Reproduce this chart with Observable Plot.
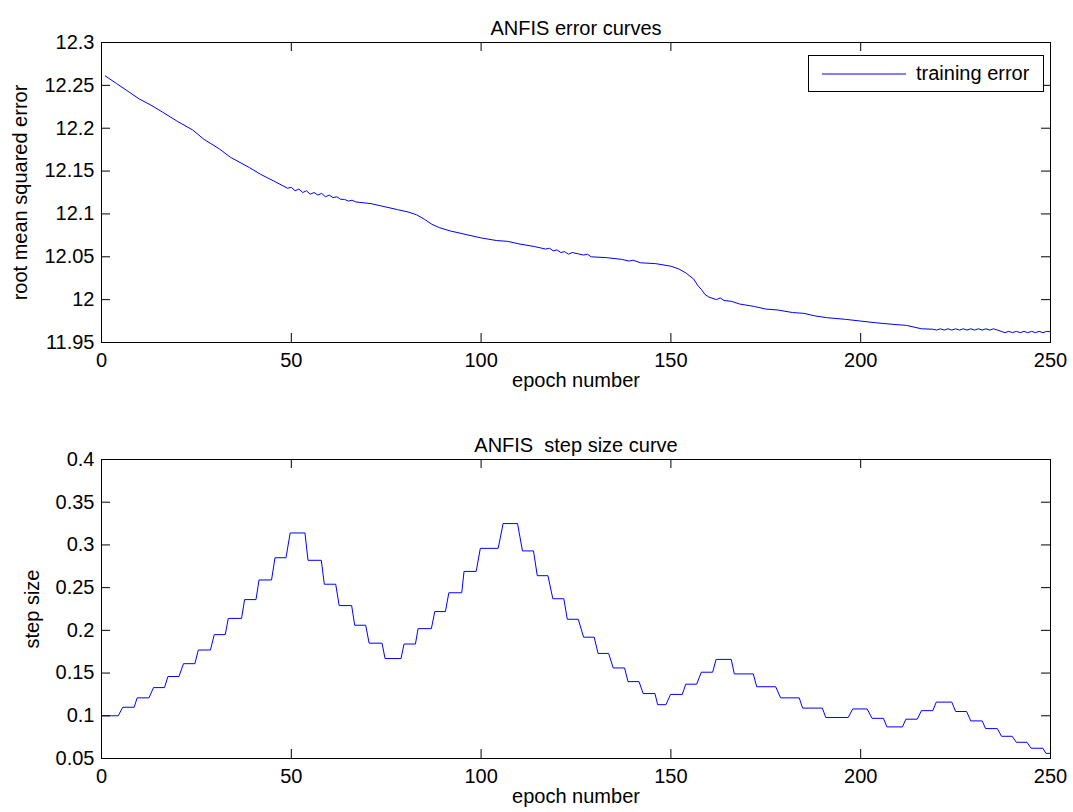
<!DOCTYPE html>
<html>
<head>
<meta charset="utf-8">
<script src="https://cdn.jsdelivr.net/npm/d3@7"></script>
<script src="https://cdn.jsdelivr.net/npm/@observablehq/plot@0.6"></script>
<style>
  html, body { margin: 0; padding: 0; background: #fff; }
  #wrap { position: relative; width: 1073px; height: 812px; background: #fff; }
  #wrap svg { display: block; }
  #wrap svg text { white-space: pre; }
  #legend { position: absolute; left: 808px; top: 55px; width: 234px; height: 35px; border: 1px solid #000; background: #fff;
            font-family: "Liberation Sans", Arial, sans-serif; font-size: 20px; color: #000; }
  #legend svg { position: absolute; left: 13px; top: 17px; }
  #legend span { position: absolute; left: 107px; top: 6px; white-space: nowrap; }
</style>
</head>
<body>
<div id="wrap"></div>
<script>
// ---------- data ----------
const xTicks = [0, 50, 100, 150, 200, 250];
const errTicks = [11.95, 12, 12.05, 12.1, 12.15, 12.2, 12.25, 12.3];
const stepTicks = [0.05, 0.1, 0.15, 0.2, 0.25, 0.3, 0.35, 0.4];

const errEpoch = [1, 4, 7, 10, 13, 16, 20, 24, 27, 31, 34, 39, 42, 46, 49,
  50, 51, 52, 53, 54, 55, 56, 57, 58, 59, 60, 61, 62, 63, 64, 65, 66, 67,
  71, 74, 78, 81, 83, 85, 87, 89, 92, 96, 100, 104, 107, 110, 114, 117,
  118, 119, 120, 121, 122, 123, 124, 126, 127, 128, 129,
  133, 137, 139, 140, 142, 146, 150, 152, 154, 156, 157, 158, 159, 160, 162, 163, 164, 166, 168,
  172, 175, 178, 182, 185, 188, 191, 196, 200, 204, 209, 212, 216, 219,
  220, 221, 222, 223, 224, 225, 226, 227, 228, 229, 230, 231, 232, 233, 234, 235, 236,
  237, 238, 239, 240, 241, 242, 243, 244, 245, 246, 247, 248, 249, 250];
const errValue = [12.261, 12.252, 12.243, 12.234, 12.227, 12.219, 12.208, 12.198, 12.187, 12.176, 12.166, 12.154, 12.146, 12.137, 12.130,
  12.131, 12.127, 12.129, 12.125, 12.127, 12.123, 12.125, 12.122, 12.124, 12.120, 12.122, 12.119, 12.120, 12.117, 12.117, 12.115, 12.116, 12.114,
  12.112, 12.109, 12.105, 12.102, 12.099, 12.094, 12.088, 12.084, 12.080, 12.076, 12.072, 12.069, 12.068, 12.065, 12.062, 12.059,
  12.060, 12.057, 12.058, 12.055, 12.056, 12.053, 12.055, 12.053, 12.052, 12.053, 12.050,
  12.049, 12.047, 12.045, 12.046, 12.043, 12.042, 12.039, 12.036, 12.031, 12.024, 12.017, 12.012, 12.006, 12.003, 12.000, 12.002, 11.999, 11.998, 11.995,
  11.992, 11.989, 11.988, 11.985, 11.984, 11.981, 11.979, 11.977, 11.975, 11.973, 11.971, 11.970, 11.966, 11.9655,
  11.9645, 11.966, 11.9645, 11.966, 11.9645, 11.966, 11.9645, 11.966, 11.9645, 11.966, 11.9645, 11.966, 11.9645, 11.966, 11.9645, 11.966, 11.9645,
  11.963, 11.9615, 11.963, 11.9615, 11.963, 11.9615, 11.963, 11.9615, 11.963, 11.9615, 11.963, 11.9615, 11.963, 11.9625];

const stepStart = [0, 5.6, 9.4, 13.7, 17.5, 21.6, 25.5, 29.7, 33.4, 37.7, 41.5, 45.7, 49.7, 54.4, 58.7, 62.6, 66.7, 70.5, 74.7,
  79.7, 83.4, 87.8, 91.5, 95.5, 99.8, 105.8, 110.9, 114.8, 118.9, 122.7, 127.0, 130.8, 134.8, 138.7, 142.7, 146.5,
  149.9, 153.9, 158.0, 161.9, 166.7, 172.6, 178.9, 184.7, 190.8, 197.9, 203.0, 206.9, 211.9, 216.0, 219.9,
  225.0, 229.0, 232.9, 237.1, 241.0, 244.9, 248.8];
const stepEnd = [4.4, 8.6, 12.5, 16.6, 20.4, 24.6, 28.7, 32.6, 36.9, 40.7, 44.8, 48.6, 53.6, 57.9, 61.7, 65.9, 69.6, 73.9, 78.9,
  82.7, 86.9, 90.6, 94.9, 98.7, 104.5, 109.6, 113.8, 117.6, 121.8, 125.6, 129.8, 133.6, 137.8, 141.6, 145.8, 148.7,
  153.0, 156.8, 161.0, 165.9, 171.7, 177.6, 183.8, 189.9, 196.7, 201.7, 206.0, 211.0, 214.9, 219.0, 224.0,
  227.9, 232.0, 236.0, 239.9, 243.8, 248.0, 250];
const stepValue = [0.100, 0.110, 0.121, 0.133, 0.146, 0.161, 0.177, 0.195, 0.214, 0.236, 0.259, 0.285, 0.314, 0.282, 0.254, 0.229, 0.206, 0.185, 0.167,
  0.184, 0.202, 0.222, 0.244, 0.269, 0.296, 0.325, 0.293, 0.264, 0.237, 0.213, 0.192, 0.173, 0.156, 0.140, 0.126, 0.113,
  0.125, 0.137, 0.151, 0.166, 0.149, 0.134, 0.121, 0.109, 0.098, 0.108, 0.097, 0.087, 0.096, 0.106, 0.116,
  0.105, 0.094, 0.085, 0.076, 0.069, 0.062, 0.056];

// ---------- build tables ----------
const errData = errEpoch.map((e, i) => ({epoch: e, value: errValue[i]}));
const stepData = [];
stepStart.forEach((s, i) => {
  stepData.push({epoch: s, value: stepValue[i]});
  stepData.push({epoch: stepEnd[i], value: stepValue[i]});
});

const FONT = "'Liberation Sans', Arial, Helvetica, sans-serif";
const FS = 20;
const W = 1073, ML = 101, MR = 23;
const plotW = W - ML - MR;
const fmt = d => String(+d.toFixed(2));

function panel({data, yDomain, yTicks, title, ylabel, ylabelDx, marginTop, marginBottom, height}) {
  const plotH = height - marginTop - marginBottom;
  const tick = 9;
  return Plot.plot({
    width: W, height, marginLeft: ML, marginRight: MR, marginTop, marginBottom,
    style: {fontFamily: FONT, fontSize: FS + "px", color: "#000", background: "#fff", overflow: "visible"},
    x: {domain: [0, 250]},
    y: {domain: yDomain},
    marks: [
      Plot.line(data, {x: "epoch", y: "value", stroke: "#0000ff", strokeWidth: 1}),
      Plot.tickX(xTicks, {x: d => d, insetTop: plotH - tick, stroke: "#000"}),
      Plot.tickX(xTicks, {x: d => d, insetBottom: plotH - tick, stroke: "#000"}),
      Plot.tickY(yTicks, {y: d => d, insetRight: plotW - tick, stroke: "#000"}),
      Plot.tickY(yTicks, {y: d => d, insetLeft: plotW - tick, stroke: "#000"}),
      Plot.frame({stroke: "#000", strokeWidth: 1}),
      Plot.axisX({ticks: xTicks, tickSize: 0, tickPadding: 10, tickFormat: fmt, label: null, fontSize: FS}),
      Plot.axisY({ticks: yTicks, tickSize: 0, tickPadding: 7, tickFormat: fmt, label: null, fontSize: FS}),
      Plot.text([title], {text: d => d, frameAnchor: "top", dy: -22, fontSize: FS, fill: "#000"}),
      Plot.text(["epoch number"], {text: d => d, frameAnchor: "bottom", dy: 44, fontSize: FS, fill: "#000"}),
      Plot.text([ylabel], {text: d => d, frameAnchor: "left", textAnchor: "middle", dx: ylabelDx, rotate: -90, fontSize: FS, fill: "#000"})
    ]
  });
}

const wrap = document.getElementById("wrap");
wrap.appendChild(panel({
  data: errData, yDomain: [11.95, 12.3], yTicks: errTicks,
  title: "ANFIS error curves", ylabel: "root mean squared error", ylabelDx: -81,
  marginTop: 42, marginBottom: 64, height: 406
}));
wrap.appendChild(panel({
  data: stepData, yDomain: [0.05, 0.4], yTicks: stepTicks,
  title: "ANFIS  step size curve", ylabel: "step size", ylabelDx: -69,
  marginTop: 53, marginBottom: 54, height: 406
}));

// legend
const leg = document.createElement("div");
leg.id = "legend";
leg.innerHTML = '<svg width="84" height="2"><line x1="0" y1="1" x2="84" y2="1" stroke="#0000ff" stroke-width="1"/></svg><span>training error</span>';
wrap.appendChild(leg);
</script>
</body>
</html>
